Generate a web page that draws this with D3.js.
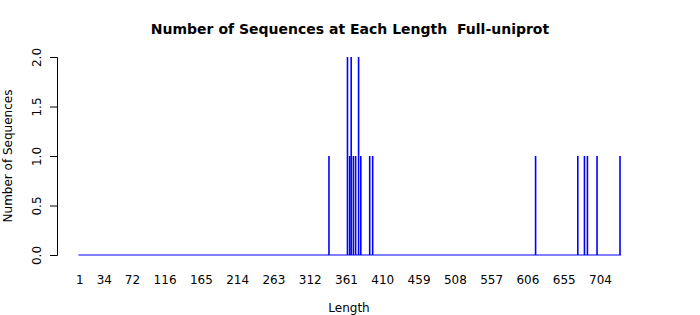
<!DOCTYPE html>
<html>
<head>
<meta charset="utf-8">
<script src="https://cdn.jsdelivr.net/npm/d3@7"></script>
<style>
  body { margin: 0; background: #fff; }
  text { font-family: "DejaVu Sans", sans-serif; fill: #000; }
</style>
</head>
<body>
<div id="chart"></div>
<script>
// lengths that occur, and how many sequences have each one
var lengths = [338, 363, 366, 368, 371, 374, 378, 381, 393, 397, 617, 674, 683, 687, 700, 731];
var counts  = [1,   2,   1,   2,   1,   1,   2,   1,   1,   1,   1,   1,   1,   1,   1,   1];
var lengthRange = [1, 731];
var xTicks = [1, 34, 72, 116, 165, 214, 263, 312, 361, 410, 459, 508, 557, 606, 655, 704];
var yTicks = [0, 0.5, 1, 1.5, 2];

var width = 700, height = 315;
var margin = { top: 57, right: 80, bottom: 60, left: 79.4 };

var svg = d3.select("#chart").append("svg")
    .attr("width", width)
    .attr("height", height);

var x = d3.scaleLinear().domain(lengthRange).range([margin.left, 620]);
var y = d3.scaleLinear().domain([0, 2]).range([height - margin.bottom, margin.top]);

// zero-height bars along the whole range show up as a blue baseline
svg.append("line")
    .attr("x1", x(lengthRange[0]) - 1)
    .attr("x2", x(lengthRange[1]) + 1)
    .attr("y1", y(0))
    .attr("y2", y(0))
    .attr("stroke", "#0000ff")
    .attr("stroke-width", 1);

var data = lengths.map((l, i) => ({ len: l, n: counts[i] }));

svg.append("g").selectAll("line")
    .data(data)
    .enter()
    .append("line")
    .attr("x1", d => x(d.len))
    .attr("x2", d => x(d.len))
    .attr("y1", y(0))
    .attr("y2", d => y(d.n))
    .attr("stroke", "#0000ff")
    .attr("stroke-width", 1.6);

// y axis, labels turned on their side like base R
var yAxis = svg.append("g")
    .attr("transform", "translate(57,0)")
    .call(d3.axisLeft(y).tickValues(yTicks).tickSize(7).tickFormat(d3.format(".1f")));
yAxis.select(".domain").attr("stroke", "#000");
yAxis.selectAll(".tick").each(function (d) {
    var t = d3.select(this);
    t.select("text").remove();
    t.select("line").attr("stroke", "#000");
    t.append("text")
        .attr("transform", "translate(-16,0) rotate(-90)")
        .attr("text-anchor", "middle")
        .attr("font-size", 12)
        .attr("font-family", "DejaVu Sans, sans-serif")
        .attr("fill", "#000")
        .text(d3.format(".1f")(d));
});

// x axis labels, no axis line or ticks
var xAxis = svg.append("g")
    .attr("transform", "translate(0,270)")
    .call(d3.axisBottom(x).tickValues(xTicks).tickSize(0).tickFormat(d3.format("d")));
xAxis.select(".domain").remove();
xAxis.selectAll(".tick text")
    .attr("font-size", 12)
    .attr("font-family", "DejaVu Sans, sans-serif")
    .attr("fill", "#000")
    .attr("y", 14)
    .attr("dy", 0);

// titles
svg.append("text")
    .attr("x", 350)
    .attr("y", 34)
    .attr("text-anchor", "middle")
    .attr("font-size", 14)
    .attr("font-weight", "bold")
    .style("white-space", "pre")
    .text("Number of Sequences at Each Length  Full-uniprot");

svg.append("text")
    .attr("x", 349)
    .attr("y", 312)
    .attr("text-anchor", "middle")
    .attr("font-size", 12)
    .text("Length");

svg.append("text")
    .attr("transform", "translate(12,156) rotate(-90)")
    .attr("text-anchor", "middle")
    .attr("font-size", 12)
    .text("Number of Sequences");
</script>
</body>
</html>
